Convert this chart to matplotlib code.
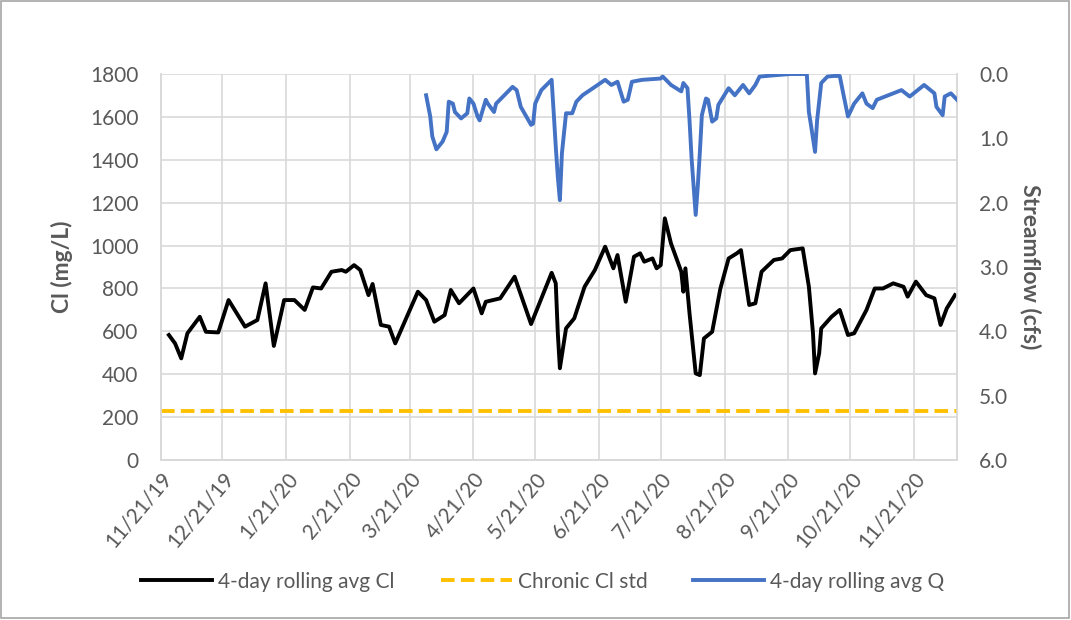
import numpy as np
import pandas as pd
import matplotlib
matplotlib.use("Agg")
from matplotlib import pyplot as plt
from matplotlib.lines import Line2D
from matplotlib.patches import Rectangle

plt.rcParams['font.family'] = ['Lato', 'DejaVu Sans']

# 4-day rolling average chloride (mg/L)
cl_dates = [
    '2019-11-25', '2019-11-28', '2019-12-01', '2019-12-04', '2019-12-10', '2019-12-13',
    '2019-12-19', '2019-12-24', '2020-01-01', '2020-01-07', '2020-01-11', '2020-01-15',
    '2020-01-20', '2020-01-25', '2020-01-30', '2020-02-03', '2020-02-07', '2020-02-12',
    '2020-02-17', '2020-02-19', '2020-02-23', '2020-02-26', '2020-03-01', '2020-03-03',
    '2020-03-07', '2020-03-11', '2020-03-14', '2020-03-20', '2020-03-25', '2020-03-29',
    '2020-04-02', '2020-04-07', '2020-04-10', '2020-04-14', '2020-04-21', '2020-04-25',
    '2020-04-27', '2020-05-04', '2020-05-11', '2020-05-19', '2020-05-29', '2020-05-31',
    '2020-06-01', '2020-06-02', '2020-06-05', '2020-06-09', '2020-06-14', '2020-06-19',
    '2020-06-24', '2020-06-28', '2020-06-30', '2020-07-04', '2020-07-08', '2020-07-11',
    '2020-07-13', '2020-07-17', '2020-07-19', '2020-07-21', '2020-07-23', '2020-07-26',
    '2020-07-31', '2020-08-01', '2020-08-02', '2020-08-04', '2020-08-07', '2020-08-09',
    '2020-08-11', '2020-08-15', '2020-08-19', '2020-08-23', '2020-08-27', '2020-08-29',
    '2020-09-02', '2020-09-05', '2020-09-08', '2020-09-14', '2020-09-18', '2020-09-22',
    '2020-09-28', '2020-10-01', '2020-10-03', '2020-10-04', '2020-10-06', '2020-10-07',
    '2020-10-12', '2020-10-16', '2020-10-20', '2020-10-23', '2020-10-29', '2020-11-02',
    '2020-11-06', '2020-11-11', '2020-11-16', '2020-11-18', '2020-11-22', '2020-11-27',
    '2020-12-01', '2020-12-04', '2020-12-07', '2020-12-11']
cl_vals = [
    583, 544, 474, 591, 668, 598,
    595, 746, 622, 653, 824, 532,
    746, 746, 700, 805, 800, 878,
    886, 878, 909, 886, 769, 821,
    630, 622, 544, 676, 785, 746,
    645, 676, 793, 731, 800, 684,
    738, 754, 855, 634, 873, 824,
    591, 428, 614, 661, 808, 886,
    995, 894, 956, 738, 948, 964,
    925, 940, 894, 909, 1127, 1010,
    878, 785, 894, 684, 404, 396,
    567, 598, 800, 940, 964, 979,
    723, 731, 878, 933, 940, 979,
    987, 808, 591, 404, 498, 614,
    668, 700, 583, 591, 700, 800,
    800, 824, 808, 762, 832, 769,
    754, 630, 707, 769]

# 4-day rolling average streamflow (cfs)
q_dates = [
    '2020-03-29', '2020-03-31', '2020-04-01', '2020-04-03', '2020-04-06', '2020-04-08',
    '2020-04-09', '2020-04-11', '2020-04-12', '2020-04-15', '2020-04-18', '2020-04-19',
    '2020-04-21', '2020-04-23', '2020-04-24', '2020-04-27', '2020-04-28', '2020-05-01',
    '2020-05-02', '2020-05-06', '2020-05-10', '2020-05-12', '2020-05-14', '2020-05-19',
    '2020-05-20', '2020-05-21', '2020-05-24', '2020-05-29', '2020-05-30', '2020-05-31',
    '2020-06-01', '2020-06-02', '2020-06-03', '2020-06-05', '2020-06-08', '2020-06-10',
    '2020-06-13', '2020-06-19', '2020-06-24', '2020-06-27', '2020-06-30', '2020-07-03',
    '2020-07-05', '2020-07-07', '2020-07-12', '2020-07-21', '2020-07-22', '2020-07-26',
    '2020-07-31', '2020-08-01', '2020-08-03', '2020-08-04', '2020-08-05', '2020-08-06',
    '2020-08-07', '2020-08-08', '2020-08-09', '2020-08-10', '2020-08-12', '2020-08-13',
    '2020-08-15', '2020-08-17', '2020-08-18', '2020-08-23', '2020-08-26', '2020-08-30',
    '2020-09-02', '2020-09-05', '2020-09-07', '2020-09-14', '2020-09-22', '2020-09-30',
    '2020-10-01', '2020-10-02', '2020-10-04', '2020-10-05', '2020-10-07', '2020-10-10',
    '2020-10-13', '2020-10-16', '2020-10-18', '2020-10-20', '2020-10-23', '2020-10-27',
    '2020-10-29', '2020-11-01', '2020-11-03', '2020-11-11', '2020-11-15', '2020-11-19',
    '2020-11-26', '2020-12-01', '2020-12-02', '2020-12-05', '2020-12-06', '2020-12-09',
    '2020-12-12']
q_vals = [
    0.33, 0.66, 0.97, 1.17, 1.05, 0.90,
    0.43, 0.46, 0.59, 0.69, 0.61, 0.38,
    0.46, 0.66, 0.72, 0.40, 0.46, 0.59,
    0.46, 0.33, 0.20, 0.25, 0.51, 0.79,
    0.77, 0.46, 0.25, 0.09, 0.60, 1.13,
    1.60, 1.96, 1.23, 0.61, 0.61, 0.43,
    0.33, 0.20, 0.09, 0.17, 0.12, 0.43,
    0.40, 0.12, 0.09, 0.07, 0.04, 0.17,
    0.27, 0.14, 0.22, 0.72, 1.31, 1.75,
    2.19, 1.75, 1.23, 0.64, 0.38, 0.40,
    0.74, 0.69, 0.48, 0.22, 0.33, 0.17,
    0.30, 0.17, 0.04, 0.02, 0.00, 0.00,
    0.59, 0.79, 1.21, 0.72, 0.14, 0.04,
    0.03, 0.03, 0.35, 0.66, 0.46, 0.30,
    0.46, 0.53, 0.40, 0.30, 0.25, 0.35,
    0.17, 0.30, 0.51, 0.64, 0.35, 0.30,
    0.40]

chronic_std = 230  # mg/L
x_start, x_end = '2019-11-21', '2020-12-12'
tick_dates = pd.date_range('2019-11-21', periods=13, freq=pd.DateOffset(months=1))
tick_labels = [f"{d.month}/{d.day}/{d:%y}" for d in tick_dates]

gray_txt = '#595959'
grid_c = '#d9d9d9'
fs = 15
lw = 2.8

fig = plt.figure(figsize=(10.71, 6.2), dpi=100)
ax = fig.add_axes([0.150, 0.258, 0.7436, 0.6226])
ax2 = ax.twinx()

cl_x = pd.to_datetime(cl_dates)
q_x = pd.to_datetime(q_dates)
xs = pd.to_datetime([x_start, x_end])

ax.plot(cl_x, cl_vals, color='black', lw=lw, zorder=3)
ax.plot(xs, [chronic_std, chronic_std], color='#FFC000', lw=lw,
        dashes=(3.5, 1.6), zorder=3)
ax2.plot(q_x, q_vals, color='#4472C4', lw=lw, zorder=3)

ax.set_xlim(xs[0], xs[1])
ax.set_ylim(0, 1800)
ax.set_yticks(np.arange(0, 1801, 200))
ax2.set_ylim(6.0, 0.0)
ax2.set_yticks(np.arange(0, 6.1, 1.0))
ax2.set_yticklabels([f"{v:.1f}" for v in np.arange(0, 6.1, 1.0)])

ax.set_xticks(tick_dates)
ax.set_xticklabels(tick_labels, rotation=50, ha='right', rotation_mode='anchor')

ax.grid(True, color=grid_c, lw=1.2, zorder=0)
ax.set_axisbelow(True)
for a in (ax, ax2):
    for s in a.spines.values():
        s.set_color(grid_c)
        s.set_linewidth(1.2)
    a.spines['top'].set_visible(False)
    a.tick_params(length=0, colors=gray_txt, labelsize=fs)
ax.tick_params(axis='x', pad=6)
ax.tick_params(axis='y', pad=16)
ax2.tick_params(axis='y', pad=16)

ax.set_ylabel('Cl (mg/L)', fontsize=16.5, fontweight='bold', color=gray_txt, labelpad=12)
ax2.set_ylabel('Streamflow (cfs)', fontsize=16.5, fontweight='bold', color=gray_txt,
               rotation=270, labelpad=24)

handles = [
    Line2D([], [], color='black', lw=lw),
    Line2D([], [], color='#FFC000', lw=lw, dashes=(3.5, 1.6)),
    Line2D([], [], color='#4472C4', lw=lw),
]
labels = ['4-day rolling avg Cl', 'Chronic Cl std', '4-day rolling avg Q']
leg = fig.legend(handles, labels, loc='center', bbox_to_anchor=(0.507, 0.062), ncol=3,
                 frameon=False, fontsize=fs, handlelength=3.4, columnspacing=2.2,
                 handletextpad=0.3)
for t in leg.get_texts():
    t.set_color(gray_txt)

fig.patches.append(Rectangle((0.001, 0.003), 0.997, 0.995, transform=fig.transFigure,
                             fill=False, edgecolor='#a6a6a6', lw=1.2))

fig.savefig('out.png', dpi=100)
